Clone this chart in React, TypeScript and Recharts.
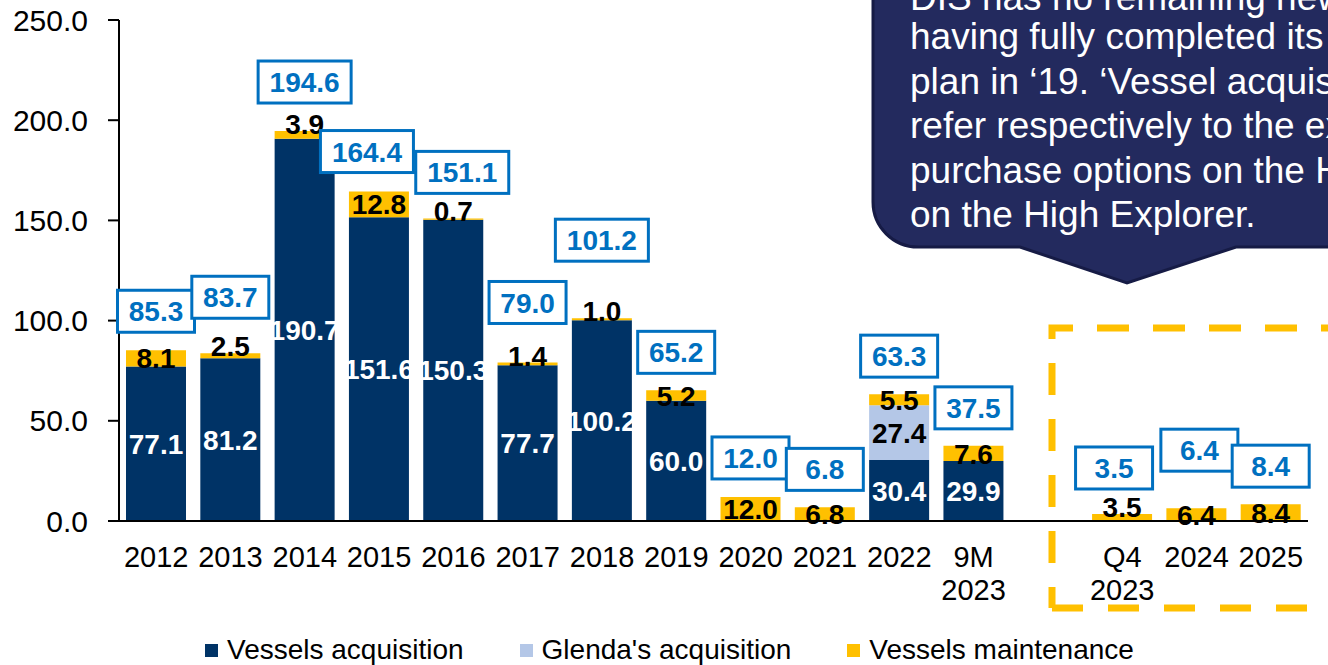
import React from 'react';
import { BarChart, Bar, XAxis, YAxis, Legend, LabelList } from 'recharts';

const categories = ['2012', '2013', '2014', '2015', '2016', '2017', '2018', '2019', '2020', '2021', '2022', '9M\n2023', '', 'Q4\n2023', '2024', '2025'];
const vesselsAcquisition = [77.1, 81.2, 190.7, 151.6, 150.3, 77.7, 100.2, 60.0, null, null, 30.4, 29.9, null, null, null, null];
const glendasAcquisition = [null, null, null, null, null, null, null, null, null, null, 27.4, null, null, null, null, null];
const vesselsMaintenance = [8.1, 2.5, 3.9, 12.8, 0.7, 1.4, 1.0, 5.2, 12.0, 6.8, 5.5, 7.6, null, 3.5, 6.4, 8.4];
const totals = [85.3, 83.7, 194.6, 164.4, 151.1, 79.0, 101.2, 65.2, 12.0, 6.8, 63.3, 37.5, null, 3.5, 6.4, 8.4];
const yTicks = [0, 50, 100, 150, 200, 250];
const seriesNames = ['Vessels acquisition', "Glenda's acquisition", 'Vessels maintenance'];
const calloutLines = [
  'DIS has no remaining newbuilding',
  'having fully completed its newbuilding',
  'plan in \u201819. \u2018Vessel acquisition\u2019',
  'refer respectively to the exercise',
  'purchase options on the High',
  'on the High Explorer.',
];

// layout of the total boxes (lift above the stack top, horizontal nudge)
const boxLift = [39, 56, 49, 40, 46, 60, 78, 38, 39, 38, 38, 38, 0, 46, 58, 38];
const boxShift = [0, 0, 0, -12, 9, 0, 0, 0, 0, 0, 0, 0, 0, -8, 3, 0];

const NAVY = '#003366';
const LIGHT = '#B4C7E7';
const GOLD = '#FFC000';
const BLUE = '#0070C0';
const FONT = '"Liberation Sans", Arial, sans-serif';

const data = categories.map((c, i) => ({
  cat: c,
  idx: i,
  va: vesselsAcquisition[i],
  ga: glendasAcquisition[i],
  vm: vesselsMaintenance[i],
}));

const num = (v: any) => (typeof v === 'number' ? v : parseFloat(v));

const WhiteLabel = (props: any) => {
  const { x, y, width, height, value } = props;
  if (value == null) return null;
  return (
    <text x={num(x) + num(width) / 2} y={num(y) + num(height) / 2} dy="0.36em" textAnchor="middle"
      fontSize={28} fontWeight="bold" fill="#fff" fontFamily={FONT}>
      {Number(value).toFixed(1)}
    </text>
  );
};

const BlackLabel = (props: any) => {
  const { x, y, width, height, value } = props;
  if (value == null) return null;
  const h = num(height);
  const cy = h < 10 ? num(y) - 7 : num(y) + h / 2;
  return (
    <text x={num(x) + num(width) / 2} y={cy} dy="0.36em" textAnchor="middle"
      fontSize={28} fontWeight="bold" fill="#000" fontFamily={FONT}>
      {Number(value).toFixed(1)}
    </text>
  );
};

const TotalBox = (props: any) => {
  const { x, y, width, value } = props;
  const index = Number(value);
  const t = totals[index];
  if (t == null) return null;
  const text = t.toFixed(1);
  const w = text.length >= 5 ? 93 : 77;
  const h = 42;
  const cx = num(x) + num(width) / 2 + boxShift[index];
  const cy = num(y) - boxLift[index];
  return (
    <g>
      <rect x={cx - w / 2} y={cy - h / 2} width={w} height={h} fill="#fff" stroke={BLUE} strokeWidth={3} />
      <text x={cx} y={cy} dy="0.36em" textAnchor="middle" fontSize={28} fontWeight="bold" fill={BLUE} fontFamily={FONT}>
        {text}
      </text>
    </g>
  );
};

const CatTick = (props: any) => {
  const { x, y, payload } = props;
  const lines = String(payload.value).split('\n');
  return (
    <text x={x} y={y} textAnchor="middle" fontSize={29} fill="#000" fontFamily={FONT}>
      {lines.map((l, i) => (
        <tspan key={i} x={x} y={num(y) + 46 + i * 33}>{l}</tspan>
      ))}
    </text>
  );
};

const LegendContent = (props: any) => {
  const payload = [...(props.payload || [])].sort(
    (a: any, b: any) => seriesNames.indexOf(a.value) - seriesNames.indexOf(b.value)
  );
  return (
    <div style={{ display: 'flex', alignItems: 'center', fontSize: 28, lineHeight: '32px', color: '#000', fontFamily: FONT, whiteSpace: 'nowrap' }}>
      {payload.map((p: any, i: number) => (
        <div key={i} style={{ display: 'flex', alignItems: 'center', marginRight: 56 }}>
          <span style={{ display: 'inline-block', width: 13, height: 13, background: p.color, marginRight: 9 }} />
          <span>{p.value}</span>
        </div>
      ))}
    </div>
  );
};

export default function App() {
  return (
    <div style={{ position: 'absolute', left: 0, top: 0, width: 1328, height: 665, fontFamily: FONT, background: '#fff' }}>
      <BarChart width={1328} height={665} data={data} margin={{ top: 20, right: 20, left: 0, bottom: 0 }} barSize={60}>
        <XAxis dataKey="cat" type="category" interval={0} tick={<CatTick />} tickLine={false} tickSize={0} tickMargin={0}
          height={104} axisLine={{ stroke: '#000', strokeWidth: 2 }} />
        <YAxis domain={[0, 250]} ticks={yTicks} interval={0} width={119} tickSize={11} tickMargin={20}
          tickFormatter={(v: number) => v.toFixed(1)}
          tick={{ fontSize: 30, fill: '#000', fontFamily: FONT }}
          axisLine={{ stroke: '#000', strokeWidth: 2 }} tickLine={{ stroke: '#000', strokeWidth: 2 }} />
        <Legend verticalAlign="bottom" height={40} content={<LegendContent />}
          wrapperStyle={{ left: 205, top: 634, bottom: 'auto', width: 'auto' }} />
        <Bar dataKey="va" name={seriesNames[0]} stackId="s" fill={NAVY} isAnimationActive={false}>
          <LabelList dataKey="va" content={<WhiteLabel />} />
        </Bar>
        <Bar dataKey="ga" name={seriesNames[1]} stackId="s" fill={LIGHT} isAnimationActive={false}>
          <LabelList dataKey="ga" content={<BlackLabel />} />
        </Bar>
        <Bar dataKey="vm" name={seriesNames[2]} stackId="s" fill={GOLD} isAnimationActive={false}>
          <LabelList dataKey="vm" content={<BlackLabel />} />
          <LabelList dataKey="idx" content={<TotalBox />} />
        </Bar>
      </BarChart>
      <svg width={1328} height={665} style={{ position: 'absolute', left: 0, top: 0, pointerEvents: 'none' }}>
        <path d="M 1340 328 L 1052 328 L 1052 608" fill="none" stroke={GOLD} strokeWidth={7} strokeDasharray="32 24" strokeDashoffset={13} />
        <path d="M 1052 608 L 1340 608" fill="none" stroke={GOLD} strokeWidth={7} strokeDasharray="31 25" />
        <path d="M 873 -20 L 873 202 A 45 45 0 0 0 918 247 L 1020 247 L 1127 283 L 1236 247 L 1345 247 L 1345 -20 Z"
          fill="#232A5E" stroke="#161B45" strokeWidth={3} />
        {calloutLines.map((l, i) => (
          <text key={i} x={910} y={i === 0 ? 10 : 49 + (i - 1) * 44.5} fontSize={37} fill="#fff" fontFamily={FONT}>{l}</text>
        ))}
      </svg>
    </div>
  );
}
